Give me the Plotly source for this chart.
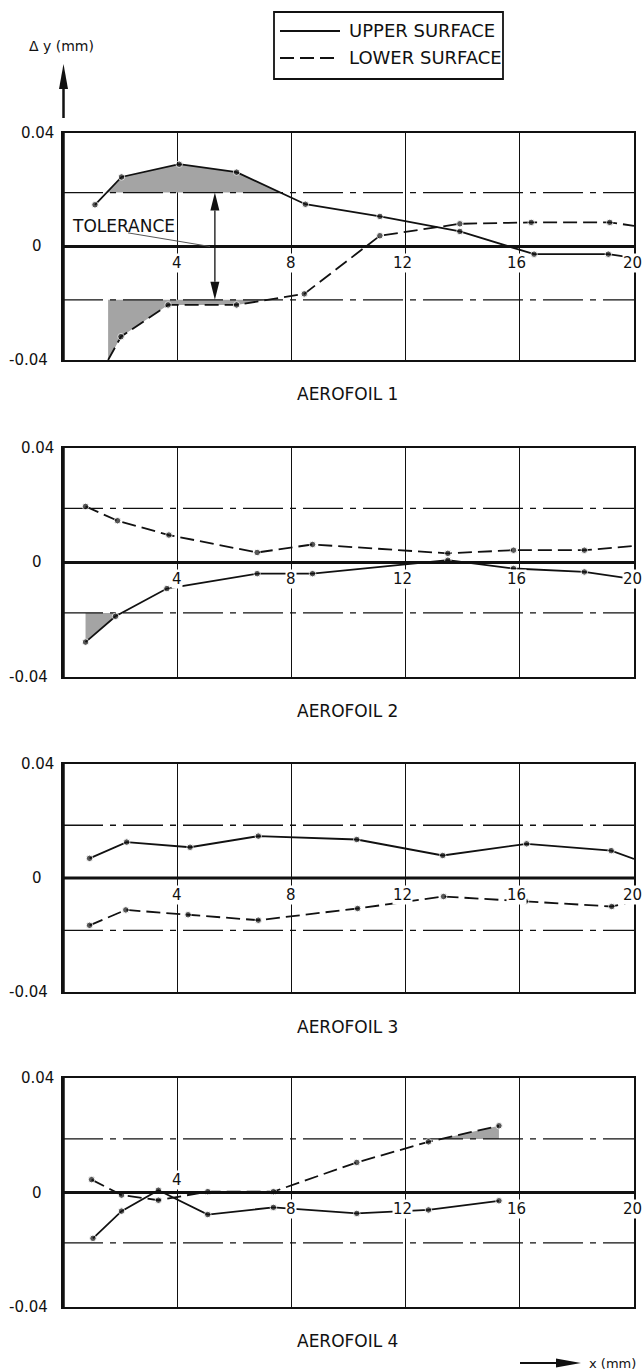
import numpy as np
import plotly.graph_objects as go

# ---------------- data ----------------
X_RANGE = [0, 20]
Y_RANGE = [-0.04, 0.04]
GRID_X = [4, 8, 12, 16]
X_TICKS = [4, 8, 12, 16, 20]
X_TICK_TEXT = ["4", "8", "12", "16", "20"]
Y_TICKS = [0.04, 0, -0.04]
Y_TICK_TEXT = ["0.04", "0", "-0.04"]

PANEL_TITLES = ["AEROFOIL 1", "AEROFOIL 2", "AEROFOIL 3", "AEROFOIL 4"]
SERIES_NAMES = ["UPPER SURFACE", "LOWER SURFACE"]

TOL_UPPER = [0.019, 0.0189, 0.0185, 0.0187]
TOL_LOWER = [-0.0188, -0.0176, -0.0184, -0.0176]

A1_UPPER_X = [1.12, 2.05, 4.07, 6.08, 8.49, 11.1, 13.9, 16.5, 19.1, 20.0]
A1_UPPER_Y = [0.0147, 0.0245, 0.029, 0.0262, 0.0149, 0.0106, 0.0053, -0.0027, -0.0027, -0.004]
A1_LOWER_X = [1.58, 2.03, 3.68, 6.08, 8.45, 11.1, 13.9, 16.4, 19.15, 20.0]
A1_LOWER_Y = [-0.040, -0.0318, -0.0206, -0.0206, -0.0167, 0.0038, 0.008, 0.0085, 0.0085, 0.0073]

A2_UPPER_X = [0.79, 1.84, 3.64, 6.8, 8.74, 13.48, 15.78, 18.26, 20.0]
A2_UPPER_Y = [-0.0278, -0.0188, -0.0091, -0.0039, -0.0039, 0.0008, -0.0021, -0.0033, -0.0058]
A2_LOWER_X = [0.79, 1.91, 3.71, 6.8, 8.74, 13.48, 15.78, 18.26, 20.0]
A2_LOWER_Y = [0.0196, 0.0146, 0.0096, 0.0035, 0.0063, 0.0032, 0.0043, 0.0043, 0.0058]

A3_UPPER_X = [0.93, 2.23, 4.45, 6.84, 10.29, 13.3, 16.24, 19.2, 20.0]
A3_UPPER_Y = [0.0069, 0.0126, 0.0108, 0.0147, 0.0135, 0.0079, 0.012, 0.0096, 0.0067]
A3_LOWER_X = [0.93, 2.2, 4.38, 6.84, 10.32, 13.33, 16.2, 19.22, 20.0]
A3_LOWER_Y = [-0.0166, -0.0112, -0.0129, -0.0148, -0.0107, -0.0065, -0.0082, -0.01, -0.0082]

A4_UPPER_X = [1.05, 2.05, 3.34, 5.07, 7.37, 10.29, 12.8, 15.27]
A4_UPPER_Y = [-0.016, -0.0065, 0.0008, -0.0077, -0.0052, -0.0073, -0.0061, -0.0029]
A4_LOWER_X = [1.0, 2.05, 3.34, 5.07, 7.37, 10.29, 12.8, 15.27]
A4_LOWER_Y = [0.0045, -0.0009, -0.0027, 0.0003, 0.0003, 0.0105, 0.0177, 0.0233]

PANELS = [
    ((A1_UPPER_X, A1_UPPER_Y), (A1_LOWER_X, A1_LOWER_Y)),
    ((A2_UPPER_X, A2_UPPER_Y), (A2_LOWER_X, A2_LOWER_Y)),
    ((A3_UPPER_X, A3_UPPER_Y), (A3_LOWER_X, A3_LOWER_Y)),
    ((A4_UPPER_X, A4_UPPER_Y), (A4_LOWER_X, A4_LOWER_Y)),
]
# (panel index, series index, exceeds upper tolerance?)
SHADED = [(0, 0, True), (0, 1, False), (1, 0, False), (3, 1, True)]

# ---------------- layout geometry (px) ----------------
W, H = 642, 1372
L, R = 63, 8
PW = W - L - R
PANEL_PX = [(133, 360), (448, 677), (764, 992), (1078, 1307)]
TITLE_PY = [394, 711, 1027, 1341]
INK = "#111111"
FONT = "DejaVu Sans"
LINE_W = 1.8
DASH = "14px,6px"
TOL_DASH = "40px,7px,6px,7px"


def px(xp):
    return (xp - L) / PW


def py(yp):
    return 1 - yp / H


def exceed_polys(xs, ys, level, above):
    s = 1 if above else -1
    polys, cur = [], None
    for i in range(len(xs)):
        x, y = xs[i], ys[i]
        inside = s * (y - level) > 0
        if i > 0:
            x0, y0 = xs[i - 1], ys[i - 1]
            prev_inside = s * (y0 - level) > 0
            if inside != prev_inside:
                xc = x0 + (level - y0) * (x - x0) / (y - y0)
                if prev_inside:
                    cur.append((xc, level))
                    polys.append(cur)
                    cur = None
                else:
                    cur = [(xc, level)]
        if inside:
            if cur is None:
                cur = [(x, level)]
            cur.append((x, y))
    if cur is not None:
        cur.append((cur[-1][0], level))
        polys.append(cur)
    return polys


fig = go.Figure()
shapes = []
annotations = []
layout_axes = {}

for k in range(4):
    n = "" if k == 0 else str(k + 1)
    xa, ya = "x" + n, "y" + n
    top, bot = PANEL_PX[k]
    layout_axes["xaxis" + n] = dict(
        domain=[0, 1], range=X_RANGE, anchor=ya, showline=True, mirror=True,
        linecolor=INK, linewidth=1.5, showgrid=True, gridcolor=INK, gridwidth=1,
        tickvals=GRID_X, showticklabels=False, ticks="", zeroline=False, fixedrange=True)
    layout_axes["yaxis" + n] = dict(
        domain=[py(bot), py(top)], range=Y_RANGE, anchor=xa, showline=True, mirror=True,
        linecolor=INK, linewidth=1.5, showgrid=False, showticklabels=False, ticks="",
        zeroline=False, fixedrange=True)

    # shaded out-of-tolerance areas
    for (pk, si, up) in SHADED:
        if pk != k:
            continue
        sx, sy = PANELS[k][si]
        lvl = TOL_UPPER[k] if up else TOL_LOWER[k]
        for poly in exceed_polys(sx, sy, lvl, up):
            fig.add_trace(go.Scatter(
                x=[p[0] for p in poly], y=[p[1] for p in poly], xaxis=xa, yaxis=ya,
                mode="lines", fill="toself", fillcolor="#a4a4a4", line=dict(width=0),
                hoverinfo="skip", showlegend=False))

    # tolerance lines
    for lvl in (TOL_UPPER[k], TOL_LOWER[k]):
        fig.add_trace(go.Scatter(
            x=X_RANGE, y=[lvl, lvl], xaxis=xa, yaxis=ya, mode="lines",
            line=dict(color=INK, width=1.3, dash=TOL_DASH),
            hoverinfo="skip", showlegend=False))

    # surfaces
    for si, (sx, sy) in enumerate(PANELS[k]):
        msize = [0 if (x >= X_RANGE[1] or abs(y) >= Y_RANGE[1]) else 6.5
                 for x, y in zip(sx, sy)]
        fig.add_trace(go.Scatter(
            x=sx, y=sy, xaxis=xa, yaxis=ya, mode="lines+markers", name=SERIES_NAMES[si],
            line=dict(color=INK, width=LINE_W, dash="solid" if si == 0 else DASH),
            marker=dict(color=INK, size=msize), showlegend=False, cliponaxis=True))

    # zero line and thick left axis
    shapes.append(dict(type="line", xref=xa, yref=ya, x0=X_RANGE[0], x1=X_RANGE[1],
                       y0=0, y1=0, line=dict(color=INK, width=3)))
    shapes.append(dict(type="line", xref=xa, yref=ya, x0=0, x1=0,
                       y0=Y_RANGE[0], y1=Y_RANGE[1], line=dict(color=INK, width=3.5)))

    # x tick labels along the zero line
    for v, t in zip(X_TICKS, X_TICK_TEXT):
        yy = -0.0058
        if k == 3 and v == 4:
            yy = 0.0042
        xx = v - (0.05 if v == 20 else (0.1 if v >= 12 else 0))
        annotations.append(dict(x=xx, y=yy, xref=xa, yref=ya, text=t, showarrow=False,
                                yanchor="middle",
                                font=dict(family=FONT, size=15, color=INK),
                                bgcolor="white", borderpad=0))
    # y tick labels
    for v, t in zip(Y_TICKS, Y_TICK_TEXT):
        xc = 28 if v < 0 else 37
        annotations.append(dict(x=px(xc), y=v, xref="paper", yref=ya, text=t,
                                showarrow=False, xanchor="center", yanchor="middle",
                                font=dict(family=FONT, size=15, color=INK)))
    # panel title
    annotations.append(dict(x=px(347), y=py(TITLE_PY[k]), xref="paper", yref="paper",
                            text=PANEL_TITLES[k], showarrow=False, yanchor="middle",
                            font=dict(family=FONT, size=17, color=INK)))

# TOLERANCE note (panel 1)
annotations.append(dict(x=0.25, y=0.0073, xref="x", yref="y", text="TOLERANCE",
                        showarrow=False, xanchor="left", yanchor="middle",
                        font=dict(family=FONT, size=17, color=INK)))
shapes.append(dict(type="line", xref="x", yref="y", x0=2.28, y0=0.0048, x1=5.15, y1=0.0,
                   line=dict(color="#555", width=1)))
ax_x = 5.32
hw = 4.5 / (PW / 20)
hh = 18 / ((PANEL_PX[0][1] - PANEL_PX[0][0]) / 0.08)
tu, tl = TOL_UPPER[0], TOL_LOWER[0]
shapes.append(dict(type="line", xref="x", yref="y", x0=ax_x, x1=ax_x, y0=tu - hh, y1=tl + hh,
                   line=dict(color=INK, width=1.3)))
shapes.append(dict(type="path", xref="x", yref="y",
                   path=f"M {ax_x},{tu} L {ax_x-hw},{tu-hh} L {ax_x+hw},{tu-hh} Z",
                   fillcolor=INK, line=dict(width=0)))
shapes.append(dict(type="path", xref="x", yref="y",
                   path=f"M {ax_x},{tl} L {ax_x-hw},{tl+hh} L {ax_x+hw},{tl+hh} Z",
                   fillcolor=INK, line=dict(width=0)))

# legend box (manual)
shapes.append(dict(type="rect", xref="paper", yref="paper", x0=px(274), x1=px(503),
                   y0=py(79), y1=py(12), line=dict(color=INK, width=1.8)))
for name, dash, yy in [(SERIES_NAMES[0], "solid", 31), (SERIES_NAMES[1], DASH, 58)]:
    shapes.append(dict(type="line", xref="paper", yref="paper", x0=px(280), x1=px(340),
                       y0=py(yy), y1=py(yy), line=dict(color=INK, width=LINE_W, dash=dash)))
    annotations.append(dict(x=px(347), y=py(yy), xref="paper", yref="paper", text=name,
                            xanchor="left", yanchor="middle", showarrow=False,
                            font=dict(family=FONT, size=18, color=INK)))

# y-axis label and arrow
annotations.append(dict(x=px(27), y=py(46), xref="paper", yref="paper", text="\u0394 y (mm)",
                        xanchor="left", yanchor="middle", showarrow=False,
                        font=dict(family=FONT, size=14, color=INK)))
shapes.append(dict(type="line", xref="paper", yref="paper", x0=px(63.5), x1=px(63.5),
                   y0=py(118), y1=py(86), line=dict(color=INK, width=2.5)))
shapes.append(dict(type="path", xref="paper", yref="paper",
                   path=f"M {px(59)},{py(89)} L {px(68)},{py(89)} L {px(63.5)},{py(64)} Z",
                   fillcolor=INK, line=dict(width=0)))

# x-axis label and arrow
shapes.append(dict(type="line", xref="paper", yref="paper", x0=px(520), x1=px(560),
                   y0=py(1363), y1=py(1363), line=dict(color=INK, width=2)))
shapes.append(dict(type="path", xref="paper", yref="paper",
                   path=f"M {px(556)},{py(1358.5)} L {px(556)},{py(1367.5)} L {px(581)},{py(1363)} Z",
                   fillcolor=INK, line=dict(width=0)))
annotations.append(dict(x=px(587), y=py(1363), xref="paper", yref="paper", text="x (mm)",
                        xanchor="left", yanchor="middle", showarrow=False,
                        font=dict(family=FONT, size=13, color=INK)))

fig.update_layout(
    width=W, height=H, margin=dict(l=L, r=R, t=0, b=0),
    paper_bgcolor="white", plot_bgcolor="white", showlegend=False,
    shapes=shapes, annotations=annotations, **layout_axes)

fig.write_html("out.html")
